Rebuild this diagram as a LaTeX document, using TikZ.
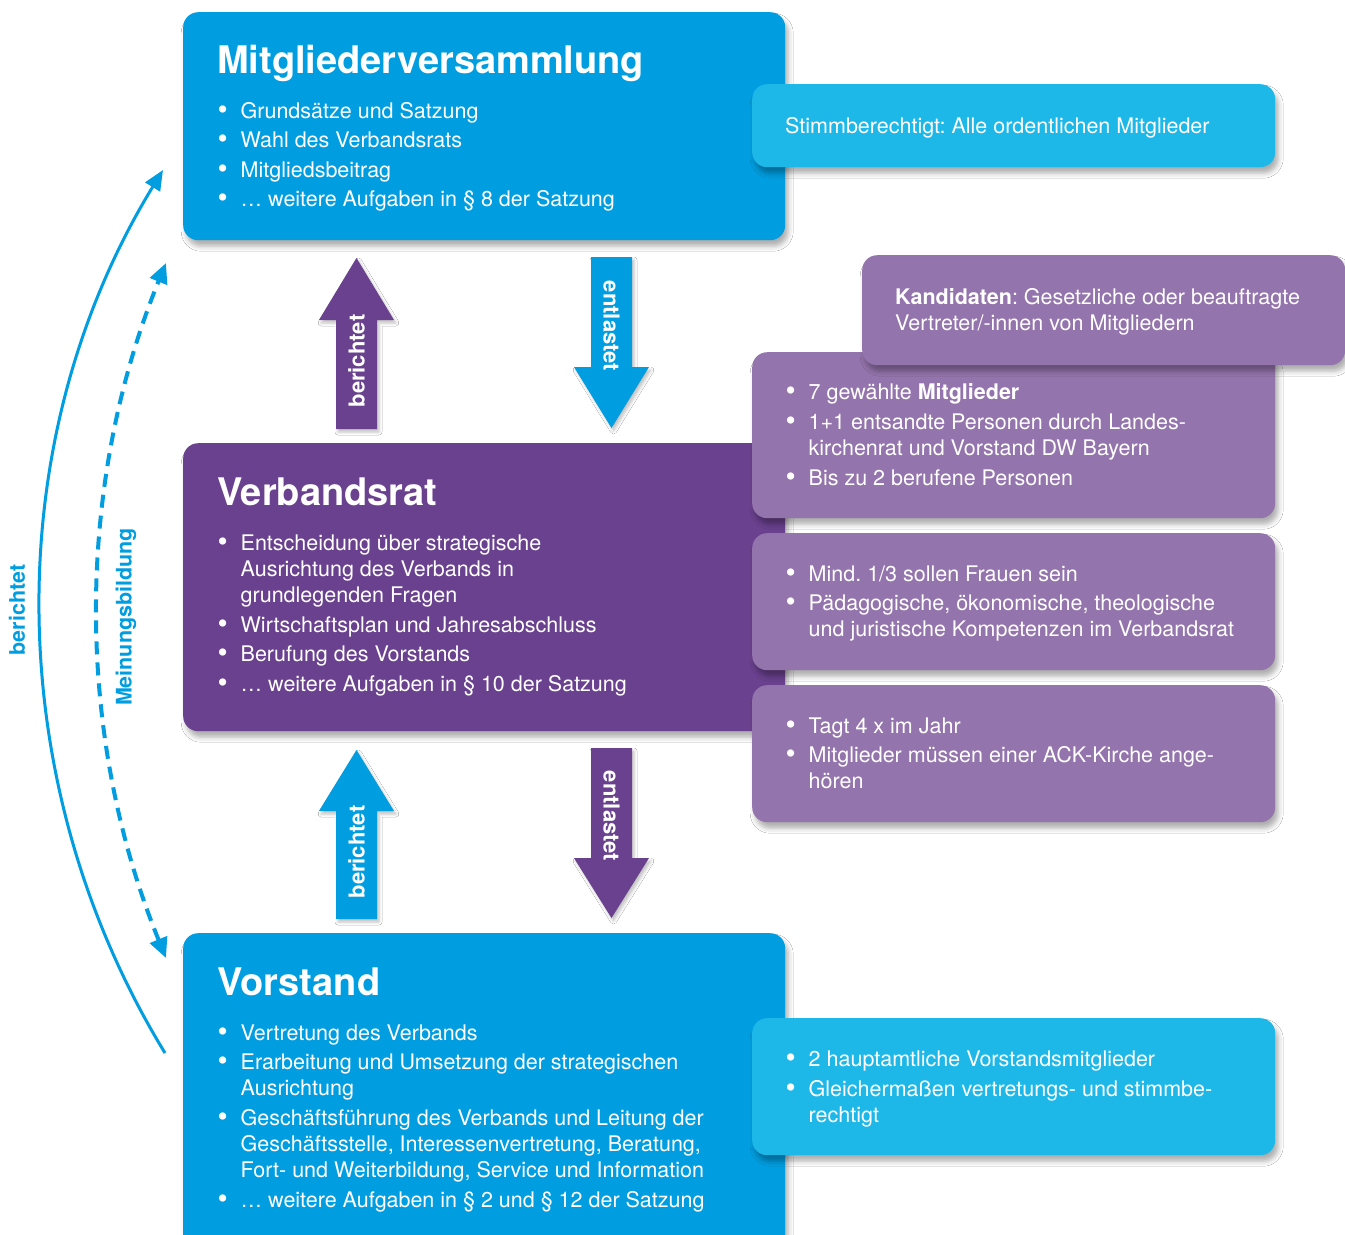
\documentclass[tikz,border=0pt]{standalone}
\usepackage{fontspec}
\setmainfont{TeX Gyre Heros}
\usetikzlibrary{arrows.meta,shadows.blur}
\frenchspacing

\definecolor{mvblue}{RGB}{0,158,224}
\definecolor{lightblue}{RGB}{29,184,232}
\definecolor{vrpurple}{RGB}{106,65,142}
\definecolor{lightpurple}{RGB}{148,116,172}

% bullet line and continuation line of a list
\newcommand\bul{\strut\makebox[23pt][l]{\raisebox{-0.9pt}{\scalebox{1.35}{\textbullet}}}}
\newcommand\cnt{\strut\hspace*{23pt}}

\tikzset{
  box/.style={rounded corners=15pt, inner sep=0pt, anchor=north west,
    blur shadow={shadow xshift=3pt, shadow yshift=-6pt,
                 shadow blur radius=5pt, shadow opacity=32}},
  blockshadow/.style={blur shadow={shadow xshift=2pt, shadow yshift=-3pt,
                 shadow blur radius=3pt, shadow opacity=25}},
  title/.style={anchor=base west, inner sep=0pt, text=white,
    font=\fontsize{38}{40}\selectfont\bfseries},
  body/.style={anchor=north west, inner sep=0pt, align=left, text=white,
    font=\fontsize{21.5}{26}\selectfont},
  line/.style={anchor=base west, inner sep=0pt, text=white,
    font=\fontsize{21.5}{26}\selectfont},
  arrowtext/.style={inner sep=0pt, text=white,
    font=\fontsize{22}{24}\selectfont\bfseries},
  sidetext/.style={inner sep=0pt, text=mvblue,
    font=\fontsize{21.5}{24}\selectfont\bfseries},
}

\begin{document}
\begin{tikzpicture}[x=1pt,y=-1pt]
\useasboundingbox (0,0) rectangle (1345,1235);
\fill[white] (0,0) rectangle (1345,1235);

% ---------------- Mitgliederversammlung ----------------
\node[box, fill=mvblue, minimum width=602pt, minimum height=228pt] (mv) at (183,12) {};
\node[title] (mvtitle) at (217,73) {Mitgliederversammlung};
\node[body] (mvbody) at (217.5,99.8) {%
\bul Grundsätze und Satzung\\[3.5pt]
\bul Wahl des Verbandsrats\\[3.5pt]
\bul Mitgliedsbeitrag\\[3.5pt]
\bul … weitere Aufgaben in § 8 der Satzung};

\node[box, fill=lightblue, minimum width=523pt, minimum height=83pt] (mvside) at (752,84) {};
\node[line] (mvsidetext) at (785,133) {Stimmberechtigt: Alle ordentlichen Mitglieder};

% ---------------- Verbandsrat ----------------
\node[box, fill=vrpurple, minimum width=602pt, minimum height=288pt] (vr) at (183,443) {};
\node[title] (vrtitle) at (217,505) {Verbandsrat};
\node[body] (vrbody) at (217.5,531.8) {%
\bul Entscheidung über strategische\\
\cnt Ausrichtung des Verbands in\\
\cnt grundlegenden Fragen\\[4pt]
\bul Wirtschaftsplan und Jahresabschluss\\[3.5pt]
\bul Berufung des Vorstands\\[3.5pt]
\bul … weitere Aufgaben in § 10 der Satzung};

\node[box, fill=lightpurple, minimum width=523pt, minimum height=166pt] (vrsideA) at (752,352) {};
\node[body] (vrsideAtext) at (785.5,380.8) {%
\bul 7 gewählte \textbf{Mitglieder}\\[4pt]
\bul 1+1 entsandte Personen durch Landes-\\
\cnt kirchenrat und Vorstand DW Bayern\\[4pt]
\bul Bis zu 2 berufene Personen};

\node[box, fill=lightpurple, minimum width=483pt, minimum height=110pt] (kand) at (862,255) {};
\node[body] (kandtext) at (895,285.8) {%
\strut\textbf{Kandidaten}: Gesetzliche oder beauftragte\\
\strut Vertreter/-innen von Mitgliedern};

\node[box, fill=lightpurple, minimum width=523pt, minimum height=137pt] (vrsideB) at (752,533) {};
\node[body] (vrsideBtext) at (785.5,562.8) {%
\bul Mind. 1/3 sollen Frauen sein\\[3pt]
\bul Pädagogische, ökonomische, theologische\\
\cnt und juristische Kompetenzen im Verbandsrat};

\node[box, fill=lightpurple, minimum width=523pt, minimum height=137pt] (vrsideC) at (752,685) {};
\node[body] (vrsideCtext) at (785.5,714.8) {%
\bul Tagt 4 x im Jahr\\[3pt]
\bul Mitglieder müssen einer ACK-Kirche ange-\\
\cnt hören};

% ---------------- Vorstand ----------------
\node[box, fill=mvblue, minimum width=602pt, minimum height=330pt] (vs) at (183,933) {};
\node[title] (vstitle) at (217,995) {Vorstand};
\node[body] (vsbody) at (217.5,1021.8) {%
\bul Vertretung des Verbands\\[3.5pt]
\bul Erarbeitung und Umsetzung der strategischen\\
\cnt Ausrichtung\\[4pt]
\bul Geschäftsführung des Verbands und Leitung der\\
\cnt Geschäftsstelle, Interessenvertretung, Beratung,\\
\cnt Fort- und Weiterbildung, Service und Information\\[4pt]
\bul … weitere Aufgaben in § 2 und § 12 der Satzung};

\node[box, fill=lightblue, minimum width=523pt, minimum height=137pt] (vsside) at (752,1018) {};
\node[body] (vssidetext) at (785.5,1047.8) {%
\bul 2 hauptamtliche Vorstandsmitglieder\\[4pt]
\bul Gleichermaßen vertretungs- und stimmbe-\\
\cnt rechtigt};

% ---------------- block arrows between the bodies ----------------
\fill[vrpurple, blockshadow] (336,429) -- (336,320) -- (319,320) -- (356.5,258)
  -- (394,320) -- (377,320) -- (377,429) -- cycle;
\node[arrowtext, rotate=90] (upA) at (356.5,361) {berichtet};

\fill[mvblue, blockshadow] (591,257) -- (632,257) -- (632,367) -- (649,367)
  -- (611.5,428) -- (574,367) -- (591,367) -- cycle;
\node[arrowtext, rotate=-90] (downA) at (611.5,326) {entlastet};

\fill[mvblue, blockshadow] (336,919) -- (336,811) -- (319,811) -- (356.5,750)
  -- (394,811) -- (377,811) -- (377,919) -- cycle;
\node[arrowtext, rotate=90] (upB) at (356.5,852) {berichtet};

\fill[vrpurple, blockshadow] (591,748) -- (632,748) -- (632,858) -- (649,858)
  -- (611.5,918) -- (574,858) -- (591,858) -- cycle;
\node[arrowtext, rotate=-90] (downB) at (611.5,816) {entlastet};

% ---------------- curved arrows on the left ----------------
\coordinate (repfrom) at (165,1053);
\coordinate (repto) at (163,170);
\draw[mvblue, line width=3pt, -{Triangle[length=20pt,width=17pt]}]
  (repfrom) .. controls +(-165,-270) and +(-165,270) .. (repto);

\coordinate (opfrom) at (166,958);
\coordinate (opto) at (166,263);
\draw[mvblue, line width=4pt, dash pattern=on 13pt off 8pt,
  {Triangle[length=20pt,width=18pt]}-{Triangle[length=20pt,width=18pt]}]
  (opfrom) .. controls +(-91,-223) and +(-91,223) .. (opto);

\node[sidetext, rotate=90] (replabel) at (17,610) {berichtet};
\node[sidetext, rotate=90] (oplabel) at (126,617) {Meinungsbildung};

\end{tikzpicture}
\end{document}
